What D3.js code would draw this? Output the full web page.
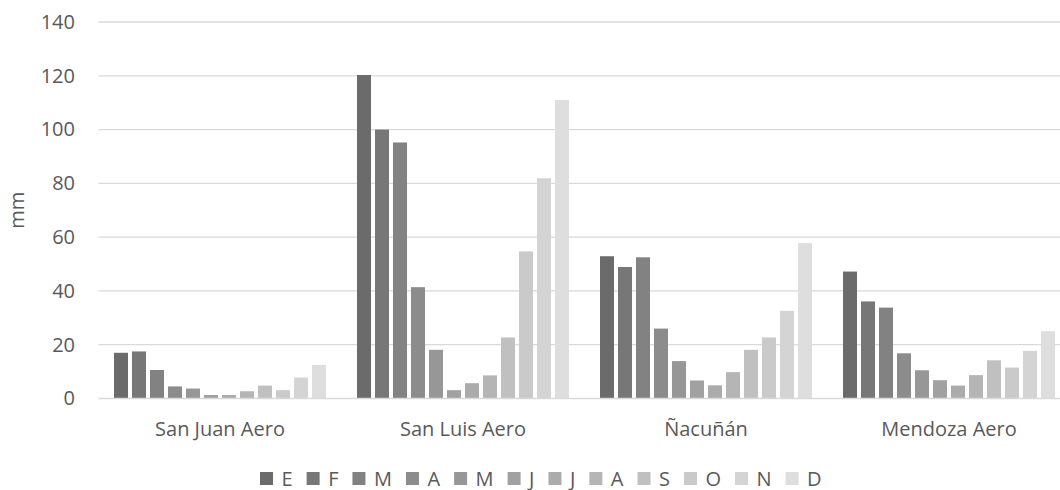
<!DOCTYPE html>
<html>
<head>
<meta charset="utf-8">
<script src="https://cdn.jsdelivr.net/npm/d3@7"></script>
<style>
  html, body { margin: 0; padding: 0; background: #fff; }
  svg { display: block; font-family: "Open Sans", "Noto Sans", sans-serif; }
</style>
</head>
<body>
<svg id="chart" width="1060" height="490"></svg>
<script>
// Monthly precipitation (mm) per station
const stations = ["San Juan Aero", "San Luis Aero", "Ñacuñán", "Mendoza Aero"];
const months = ["E", "F", "M", "A", "M", "J", "J", "A", "S", "O", "N", "D"];
const sanJuan = [17.0, 17.5, 10.6, 4.5, 3.7, 1.3, 1.3, 2.7, 4.8, 3.1, 7.8, 12.5];
const sanLuis = [120.3, 100.0, 95.2, 41.4, 18.1, 3.1, 5.7, 8.6, 22.7, 54.7, 81.9, 111.0];
const nacunan = [52.9, 48.9, 52.5, 26.0, 13.9, 6.7, 4.9, 9.8, 18.1, 22.7, 32.6, 57.8];
const mendoza = [47.2, 36.1, 33.8, 16.8, 10.5, 6.8, 4.8, 8.7, 14.2, 11.5, 17.7, 25.0];
const yTicks = [0, 20, 40, 60, 80, 100, 120, 140];
const monthColors = ["#6b6b6b", "#777777", "#828282", "#8c8c8c", "#979797", "#a1a1a1",
                     "#ababab", "#b5b5b5", "#c0c0c0", "#cacaca", "#d4d4d4", "#dedede"];

const series = [sanJuan, sanLuis, nacunan, mendoza];
const textColor = "#595959";
const fontSize = 20;

const svg = d3.select("#chart");
const plot = { left: 98.5, right: 1070.5, top: 22, bottom: 398.5 };

const x0 = d3.scaleBand().domain(stations).range([plot.left, plot.right]);
const clusterPad = 15.5;
const x1 = d3.scaleBand()
  .domain(d3.range(months.length))
  .range([clusterPad, x0.bandwidth() - clusterPad])
  .paddingInner(0.222)
  .paddingOuter(0);
const y = d3.scaleLinear().domain([0, 140]).range([plot.bottom, plot.top]);

// horizontal gridlines
svg.append("g")
  .selectAll("line")
  .data(yTicks.filter(t => t > 0))
  .join("line")
  .attr("x1", plot.left).attr("x2", plot.right)
  .attr("y1", d => y(d)).attr("y2", d => y(d))
  .attr("stroke", "#d9d9d9").attr("stroke-width", 1.3);

// y axis labels
const yAxis = d3.axisLeft(y).tickValues(yTicks).tickSize(0).tickPadding(23.5);
const gy = svg.append("g").attr("transform", `translate(${plot.left},0)`).call(yAxis);
gy.select(".domain").remove();
gy.attr("font-family", null).attr("font-size", null);
gy.selectAll("text").attr("fill", textColor).attr("font-size", fontSize);

// bars
const groups = svg.append("g")
  .selectAll("g")
  .data(stations)
  .join("g")
  .attr("transform", d => `translate(${x0(d)},0)`);

groups.selectAll("rect")
  .data((d, i) => series[i].map((v, m) => ({ v, m })))
  .join("rect")
  .attr("x", d => x1(d.m))
  .attr("width", x1.bandwidth())
  .attr("y", d => y(d.v))
  .attr("height", d => y(0) - y(d.v))
  .attr("fill", d => monthColors[d.m]);

// x axis baseline and category labels
svg.append("line")
  .attr("x1", plot.left).attr("x2", plot.right)
  .attr("y1", y(0)).attr("y2", y(0))
  .attr("stroke", "#d9d9d9").attr("stroke-width", 1.5);

const xAxis = d3.axisBottom(x0).tickSize(0).tickPadding(23);
const gx = svg.append("g").attr("transform", `translate(0,${plot.bottom})`).call(xAxis);
gx.select(".domain").remove();
gx.attr("font-family", null).attr("font-size", null);
gx.selectAll("text").attr("fill", textColor).attr("font-size", fontSize);

// y axis title
svg.append("text")
  .attr("transform", `translate(24,${(plot.top + plot.bottom) / 2}) rotate(-90)`)
  .attr("text-anchor", "middle")
  .attr("fill", textColor)
  .attr("font-size", fontSize)
  .text("mm");

// legend
const legend = svg.append("g").attr("transform", "translate(260,472)");
let lx = 0;
months.forEach((m, i) => {
  const item = legend.append("g").attr("transform", `translate(${lx},0)`);
  item.append("rect")
    .attr("x", 0).attr("y", 0).attr("width", 13).attr("height", 13)
    .attr("fill", monthColors[i]);
  const t = item.append("text")
    .attr("x", 21.5).attr("y", 13.5)
    .attr("fill", textColor).attr("font-size", fontSize)
    .text(m);
  lx += 21.5 + t.node().getComputedTextLength() + 14;
});
</script>
</body>
</html>
